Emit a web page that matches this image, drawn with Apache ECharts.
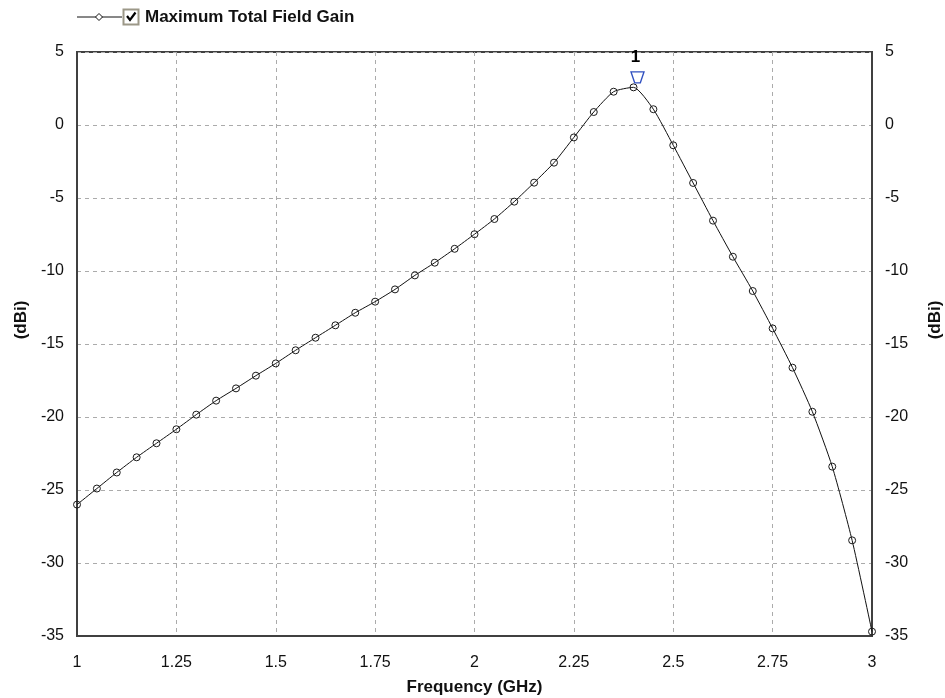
<!DOCTYPE html>
<html>
<head>
<meta charset="utf-8">
<script src="https://cdn.jsdelivr.net/npm/echarts@6/dist/echarts.min.js"></script>
<style>
html,body{margin:0;padding:0;background:#fff;}
#chart{width:945px;height:698px;}
</style>
</head>
<body>
<div id="chart"></div>
<script>
// Frequency (GHz)
const frequency = [1.00,1.05,1.10,1.15,1.20,1.25,1.30,1.35,1.40,1.45,1.50,1.55,1.60,1.65,1.70,1.75,1.80,1.85,1.90,1.95,2.00,2.05,2.10,2.15,2.20,2.25,2.30,2.35,2.40,2.45,2.50,2.55,2.60,2.65,2.70,2.75,2.80,2.85,2.90,2.95,3.00];
// Maximum Total Field Gain (dBi)
const gain = [-26.0,-24.9,-23.8,-22.76,-21.8,-20.84,-19.84,-18.88,-18.04,-17.17,-16.33,-15.43,-14.57,-13.72,-12.86,-12.1,-11.26,-10.3,-9.43,-8.48,-7.48,-6.44,-5.25,-3.95,-2.58,-0.85,0.89,2.28,2.58,1.08,-1.39,-3.97,-6.55,-9.02,-11.37,-13.93,-16.62,-19.64,-23.4,-28.45,-34.7];
const seriesName = 'Maximum Total Field Gain';
const markerFreq = 2.4;
const markerGain = 2.58;
const markerLabel = '1';

const points = frequency.map((f, i) => [f, gain[i]]);
const font = '"Liberation Sans", Arial, sans-serif';

const chart = echarts.init(document.getElementById('chart'), null, {renderer: 'canvas'});
const axisLabelStyle = {color: '#111', fontSize: 16, fontFamily: font};
const nameStyle = {fontFamily: font, fontSize: 17, fontWeight: 'bold', color: '#111'};
const gridLine = {show: true, lineStyle: {color: '#ababab', type: [4,4], width: 1}};
const frame = {show: true, onZero: false, lineStyle: {color: '#404040', width: 2}};

chart.setOption({
  animation: false,
  backgroundColor: '#fff',
  grid: {left: 77, right: 73, top: 52, bottom: 62, outerBoundsMode: 'none', containLabel: false, show: true, borderColor: '#404040', borderWidth: 2, backgroundColor: 'transparent'},
  graphic: [
    {type: 'line', shape: {x1: 77, y1: 17, x2: 122, y2: 17}, style: {stroke: '#111', lineWidth: 1}},
    {type: 'polygon', shape: {points: [[99,13.5],[102.5,17],[99,20.5],[95.5,17]]}, style: {fill: '#fff', stroke: '#111', lineWidth: 1}},
    {type: 'rect', shape: {x: 123.5, y: 9.5, width: 15, height: 15}, style: {fill: '#fff', stroke: '#9c9888', lineWidth: 2}},
    {type: 'polyline', shape: {points: [[127,16],[130,20],[135.5,12.5]]}, style: {stroke: '#000', lineWidth: 2.2, fill: null}},
    {type: 'text', left: 145, top: 9, style: {text: seriesName, font: 'bold 17px "Liberation Sans", Arial, sans-serif', fill: '#111'}}
  ],
  xAxis: {
    type: 'value', min: 1, max: 3, interval: 0.25,
    name: 'Frequency (GHz)', nameLocation: 'middle', nameGap: 43,
    nameTextStyle: nameStyle,
    axisLine: frame,
    axisTick: {show: false},
    axisLabel: Object.assign({margin: 19}, axisLabelStyle),
    splitLine: gridLine
  },
  yAxis: [{
    type: 'value', min: -35, max: 5, interval: 5, position: 'left',
    name: '(dBi)', nameLocation: 'middle', nameGap: 47, nameRotate: 90,
    nameTextStyle: Object.assign({padding: [0,0,0,48]}, nameStyle),
    axisLine: frame,
    axisTick: {show: false},
    axisLabel: Object.assign({margin: 13}, axisLabelStyle),
    splitLine: gridLine
  }, {
    type: 'value', min: -35, max: 5, interval: 5, position: 'right',
    name: '(dBi)', nameLocation: 'middle', nameGap: 55, nameRotate: 90,
    nameTextStyle: Object.assign({padding: [0,0,0,48]}, nameStyle),
    axisLine: frame,
    axisTick: {show: false},
    axisLabel: Object.assign({margin: 13}, axisLabelStyle),
    splitLine: {show: false}
  }],
  series: [{
    name: seriesName, type: 'line', data: points, yAxisIndex: 0,
    smooth: 0.2,
    symbol: 'circle', symbolSize: 7,
    lineStyle: {color: '#111', width: 1},
    itemStyle: {color: 'rgba(255,255,255,0)', borderColor: '#1a1a1a', borderWidth: 1},
    markPoint: {
      symbol: 'path://M0,0 L14,0 L10,11 L4,11 Z',
      symbolSize: [13, 11],
      symbolOffset: [4, -10],
      itemStyle: {color: 'rgba(0,0,0,0)', borderColor: '#3050c0', borderWidth: 1.3},
      label: {show: true, position: 'top', distance: 5, offset: [-2, 0], formatter: markerLabel, color: '#000', fontFamily: font, fontSize: 17, fontWeight: 'bold'},
      data: [{coord: [markerFreq, markerGain]}]
    }
  }]
});
</script>
</body>
</html>
